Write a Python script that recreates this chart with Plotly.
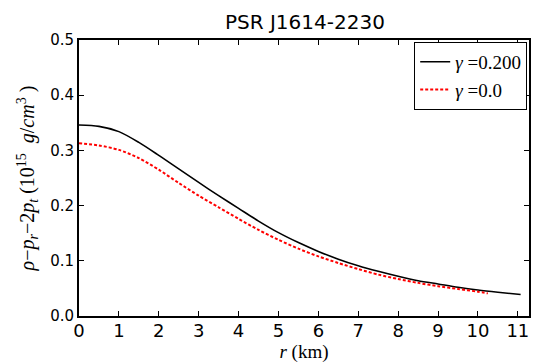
import plotly.graph_objects as go

r_black = [0, 0.5, 1, 1.5, 2, 2.5, 3, 3.5, 4, 4.5, 5, 5.5, 6, 6.5, 7, 7.5, 8, 8.5, 9, 9.5, 10, 10.5, 11.07]
rho_black = [0.346, 0.3435, 0.334, 0.3145, 0.291, 0.2665, 0.242, 0.218, 0.195, 0.172, 0.151, 0.133, 0.117,
             0.103, 0.091, 0.081, 0.072, 0.064, 0.058, 0.052, 0.047, 0.043, 0.039]

r_red = [0, 0.5, 1, 1.5, 2, 2.5, 3, 3.5, 4, 4.5, 5, 5.5, 6, 6.5, 7, 7.5, 8, 8.5, 9, 9.5, 10, 10.25]
rho_red = [0.313, 0.309, 0.301, 0.286, 0.265, 0.241, 0.218, 0.197, 0.176, 0.156, 0.138, 0.122, 0.108,
           0.096, 0.085, 0.075, 0.067, 0.060, 0.054, 0.049, 0.044, 0.041]

name_black = "<i>γ</i> =0.200"
name_red = "<i>γ</i> =0.0"
title_text = "PSR J1614-2230"
x_title = "<i>r</i> (km)"
y_title = ("<i>ρ</i>−<i>p<sub>r</sub></i>−2<i>p<sub>t</sub></i> (10<sup>15</sup>&nbsp;&nbsp;"
           "<i>g</i>/<i>cm</i><sup>3</sup>&nbsp;)")

fig = go.Figure()
fig.add_trace(go.Scatter(x=r_black, y=rho_black, mode="lines", name=name_black,
                         line=dict(color="black", width=1.6, shape="spline", smoothing=0.8)))
fig.add_trace(go.Scatter(x=r_red, y=rho_red, mode="lines", name=name_red,
                         line=dict(color="red", width=2, dash="3px,2px", shape="spline", smoothing=0.8)))

axis_common = dict(showline=True, linecolor="black", linewidth=2, mirror="ticks",
                   ticks="inside", ticklen=5, tickwidth=1, tickcolor="black",
                   showgrid=False, zeroline=False, automargin=False)

fig.update_xaxes(range=[0, 11.28], dtick=1, tick0=0, ticklabelstandoff=-3,
                 tickfont=dict(family="DejaVu Sans", size=18, color="black"),
                 title=dict(text=x_title, font=dict(family="Liberation Serif", size=19, color="black"), standoff=3),
                 **axis_common)
fig.update_yaxes(range=[0, 0.5], dtick=0.1, tick0=0, tickformat=".1f",
                 tickfont=dict(family="DejaVu Sans", size=15, color="black"),
                 title=dict(text=y_title, font=dict(family="Liberation Serif", size=20, color="black"), standoff=10),
                 **axis_common)

fig.update_layout(
    width=534, height=364,
    margin=dict(l=79, r=5, t=40, b=48, autoexpand=False),
    paper_bgcolor="white", plot_bgcolor="white",
    title=dict(text=title_text, x=0.571, xanchor="center", y=0.94, yanchor="middle",
               font=dict(family="DejaVu Sans", size=20, color="black"), automargin=False),
    legend=dict(x=0.996, y=0.993, xanchor="right", yanchor="top",
                bordercolor="black", borderwidth=1, bgcolor="white",
                font=dict(family="Liberation Serif", size=19, color="black"),
                itemwidth=30, tracegroupgap=0),
    showlegend=True,
)

fig.write_html("out.html", config={"displayModeBar": False},
               post_script="document.body.style.margin='0';document.body.style.overflow='hidden';")
